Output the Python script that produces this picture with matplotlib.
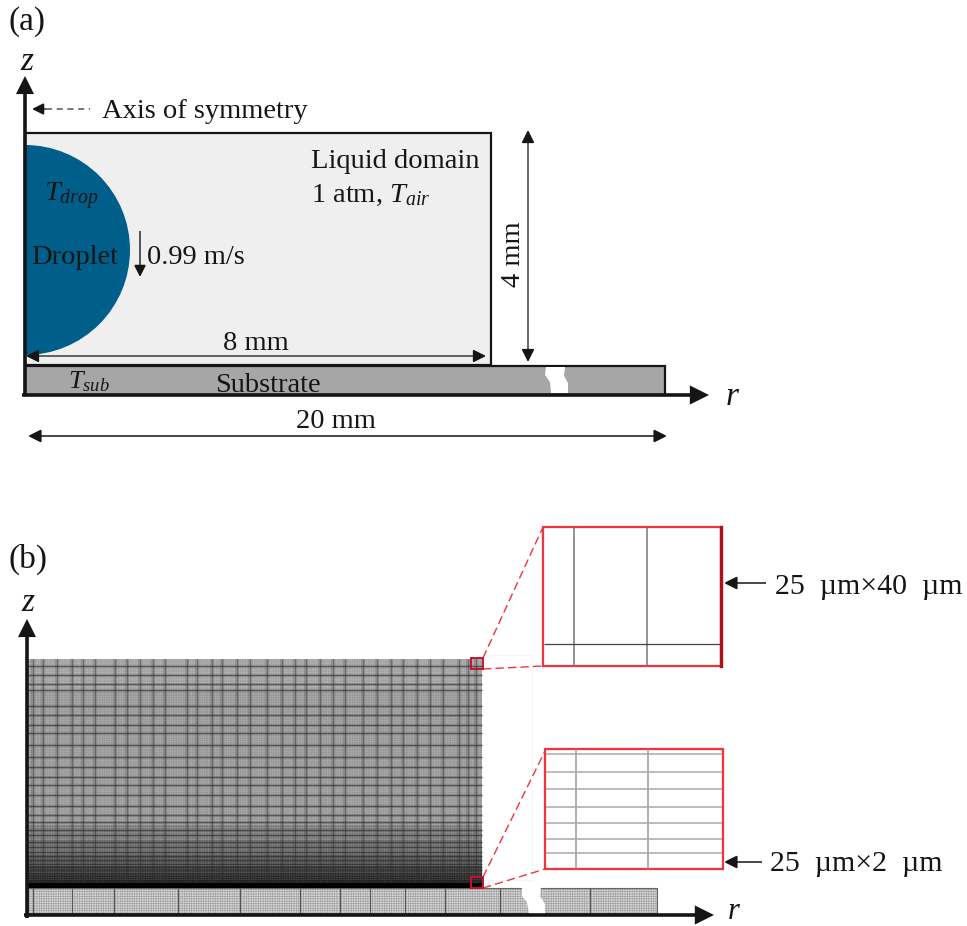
import matplotlib
matplotlib.use("Agg")
import matplotlib.pyplot as plt
from matplotlib.patches import Rectangle, Wedge, Polygon, FancyArrowPatch

plt.rcParams['font.family'] = ['Liberation Serif', 'DejaVu Sans']
plt.rcParams['mathtext.fontset'] = 'custom'
plt.rcParams['mathtext.rm'] = 'Liberation Serif'
plt.rcParams['mathtext.it'] = 'Liberation Serif:italic'
plt.rcParams['hatch.linewidth'] = 0.45

# mesh features, in picture pixels
mesh_dark_x = [33, 43, 57, 72, 83, 95, 115, 127, 140, 153, 165, 187, 197, 212, 222, 237, 250, 267,
               282, 295, 306, 320, 333, 345, 363, 377, 391, 403, 417, 430, 443, 459, 468, 476]
mesh_dark_y = [666, 675, 684, 690, 706, 715, 725, 733, 745, 757, 767, 777, 785, 795, 806, 815,
               822, 830, 835, 842, 847, 852, 856, 860, 864, 867, 870, 873, 876, 878, 880, 882, 884, 886]
mesh_bands_y = [659, 690, 825, 840, 855, 866, 874, 880, 884, 888]
mesh_bands_grey = ['#a0a0a0', '#969696', '#787878', '#686868', '#505050', '#3a3a3a', '#262626', '#141414', '#000000']
sub_mesh_dark_x = [33, 72, 114, 178, 240, 300, 340, 370, 405, 445, 500, 590]
inset1_v = [574, 647]
inset1_h = [644]
inset2_v = [576, 648]
inset2_h = [754, 772, 789, 807, 823, 839, 853]

RED = '#f0343c'
INK = '#151515'
fig = plt.figure(figsize=(9.67, 9.26), dpi=100)
ax = fig.add_axes([0, 0, 1, 1])
ax.set_xlim(0, 967)
ax.set_ylim(926, 0)
ax.axis('off')


def arrow(p0, p1, style='-|>', lw=1.2, ms=20, color='#151515', z=6):
    ax.add_patch(FancyArrowPatch(p0, p1, arrowstyle=style, mutation_scale=ms, lw=lw, color=color,
                                 shrinkA=0, shrinkB=0, zorder=z, joinstyle='miter', capstyle='butt'))


def T(x, y, s, size=20.5, **kw):
    kw.setdefault('va', 'center')
    kw.setdefault('ha', 'left')
    ax.text(x, y, s, fontsize=size, zorder=8, color=INK, **kw)


# ---------- panel (a) ----------
ax.add_patch(Rectangle((25, 133), 466, 232, fc='#efefef', ec=INK, lw=1.6, zorder=1))
ax.add_patch(Wedge((25, 250), 105, -90, 90, fc='#005f8a', ec='none', zorder=2))
ax.add_patch(Rectangle((25, 366), 640, 29, fc='#a6a6a6', ec=INK, lw=1.6, zorder=2))
ax.add_patch(Polygon([(546, 367), (565, 367), (564, 376), (568, 383), (568, 393), (551, 393),
                      (550, 382), (545, 375)], fc='white', ec='none', zorder=3))
arrow((25, 396), (25, 76), lw=2.6, ms=22)
arrow((22, 395), (709, 395), lw=2.6, ms=24)
arrow((46, 109), (32, 109), lw=1.0, ms=18)
ax.plot([46, 90], [109, 109], color='#555555', lw=1.1, ls=(0, (4, 3)), zorder=5)
arrow((140, 231), (140, 277), lw=1.0, ms=18)
arrow((253, 356), (26, 356), lw=0.9, ms=20)
arrow((253, 356), (486, 356), lw=0.9, ms=20)
arrow((528, 250), (528, 130), lw=0.9, ms=20)
arrow((528, 250), (528, 362), lw=0.9, ms=20)
arrow((340, 436), (28, 436), lw=1.1, ms=20)
arrow((340, 436), (667, 436), lw=1.1, ms=20)

T(9, 22, '(a)', size=24)
T(20, 62, 'z', size=24, style='italic')
T(102, 111, 'Axis of symmetry')
T(311, 162, 'Liquid domain')
T(311, 195, r'1 atm, $T_{air}$')
T(44, 196, r'$T_{drop}$')
T(31, 257, 'Droplet')
T(147, 258, '0.99 m/s')
T(256, 344, '8 mm', ha='center')
T(514, 254, '4 mm', ha='center', rotation=90)
T(68, 382, r'$T_{sub}$', size=19)
T(268, 385, 'Substrate', ha='center')
T(336, 422, '20 mm', ha='center')
T(726, 397, 'r', size=24, style='italic')

# ---------- panel (b) ----------
for y0, y1, g in zip(mesh_bands_y[:-1], mesh_bands_y[1:], mesh_bands_grey):
    ax.add_patch(Rectangle((28, y0), 454, y1 - y0, fc=g, ec='none', zorder=1))
ax.add_patch(Rectangle((28, 659), 454, 229, fc='none', ec=(1, 1, 1, 0.18), lw=0, hatch='+++++++', zorder=1.2))
ax.vlines(mesh_dark_x, 659, 888, color='#404040', lw=3.0, alpha=0.20, zorder=2)
ax.vlines(mesh_dark_x, 659, 888, color='#303030', lw=0.8, alpha=0.4, zorder=2)
ax.hlines(mesh_dark_y, 28, 482, color='#333333', lw=2.2, alpha=0.2, zorder=2)
ax.hlines(mesh_dark_y, 28, 482, color='#222222', lw=0.8, alpha=0.5, zorder=2)
ax.add_patch(Rectangle((28, 883), 454, 5, fc='black', ec='none', zorder=2.5))

ax.add_patch(Rectangle((28, 888), 629, 25, fc='#d8d8d8', ec='none', zorder=1))
ax.add_patch(Rectangle((28, 888), 629, 25, fc='none', ec=(0.5, 0.5, 0.5, 0.65), lw=0, hatch='+++++++', zorder=1.5))
ax.add_patch(Rectangle((28, 888), 629, 25, fc='none', ec='#666666', lw=0.8, zorder=2))
ax.vlines(sub_mesh_dark_x, 888, 913, color='#555555', lw=0.8, zorder=2)
ax.add_patch(Polygon([(522, 887), (541, 887), (540, 896), (545, 904), (545, 914), (529, 914),
                      (527, 902), (522, 896)], fc='white', ec='none', zorder=3))
arrow((27, 918), (27, 619), lw=2.6, ms=22)
arrow((24, 915), (714, 915), lw=2.6, ms=24)
ax.plot([482, 532, 532, 482], [655, 655, 880, 880], color='#f6f6f6', lw=0.8, zorder=0.5)

# small marker squares and dashed leaders
ax.add_patch(Rectangle((471, 658), 12, 11, fc='none', ec='#c8102e', lw=1.4, zorder=5))
ax.add_patch(Rectangle((471, 877), 12, 11, fc='none', ec='#c8102e', lw=1.4, zorder=5))
dash = (0, (6, 3))
ax.plot([483, 543], [658, 527], color=RED, lw=1.0, ls=dash, zorder=4)
ax.plot([483, 543], [669, 666], color=RED, lw=1.0, ls=dash, zorder=4)
ax.plot([483, 545], [877, 751], color=RED, lw=1.0, ls=dash, zorder=4)
ax.plot([483, 545], [888, 869], color=RED, lw=1.0, ls=dash, zorder=4)

# insets
ax.add_patch(Rectangle((543, 527), 178, 139, fc='white', ec=RED, lw=1.6, zorder=4))
ax.vlines(inset1_v, 527, 666, color='#777777', lw=1.1, zorder=5)
ax.hlines(inset1_h, 544, 720, color='#444444', lw=0.9, zorder=5)
ax.plot([721, 721], [527, 666], color='#b01018', lw=2.4, zorder=6)
ax.add_patch(Rectangle((545, 749), 178, 120, fc='white', ec=RED, lw=1.6, zorder=4))
ax.vlines(inset2_v, 749, 869, color='#999999', lw=1.1, zorder=5)
ax.hlines(inset2_h, 546, 722, color='#aaaaaa', lw=1.1, zorder=5)

arrow((766, 583), (724, 583), lw=1.1, ms=20)
arrow((762, 862), (724, 862), lw=1.1, ms=20)

T(9, 559, '(b)', size=24)
T(21, 603, 'z', size=24, style='italic')
T(728, 919, 'r', size=22, style='italic', va='baseline')
T(775, 587, '25  µm×40  µm', size=21.5)
T(770, 864, '25  µm×2  µm', size=21.5)

fig.savefig('out.png', dpi=100, facecolor='white')
